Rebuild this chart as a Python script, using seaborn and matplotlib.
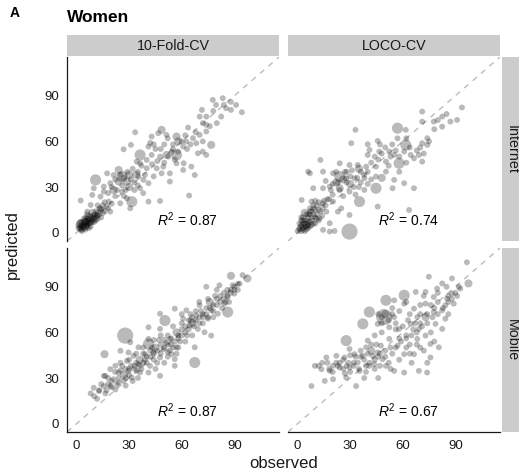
import numpy as np
import pandas as pd
import seaborn as sns
import matplotlib.pyplot as plt
from matplotlib.patches import Rectangle

# (observed, predicted, size class) per panel
internet_10fold = [
    (1, 3, 1), (2, 4, 1), (2, 6, 2), (3, 2, 1), (3, 5, 1), (4, 3, 1), (4, 7, 1), (5, 4, 2), (5, 8, 1), (6, 5, 1),
    (6, 9, 1), (7, 6, 1), (7, 10, 2), (8, 7, 1), (8, 11, 1), (9, 8, 1), (10, 9, 1), (10, 12, 1), (11, 10, 1),
    (12, 13, 1), (3, 1, 1), (5, 2, 1), (6, 6, 1), (4, 9, 1), (2, 2, 1), (8, 4, 1), (9, 13, 2), (7, 3, 1), (1, 5, 1),
    (5, 10, 1), (11, 14, 1), (13, 12, 1), (6, 12, 1), (12, 9, 1), (14, 15, 1), (15, 13, 1),
    (2, 3, 1), (3, 4, 1), (4, 5, 1), (5, 6, 1), (6, 7, 1), (7, 8, 1), (8, 9, 1), (9, 10, 1), (10, 11, 1), (3, 7, 1),
    (4, 4, 1), (6, 4, 1), (7, 9, 1), (9, 7, 1), (11, 8, 1), (12, 11, 1), (2, 7, 1), (5, 7, 2), (8, 6, 1), (10, 7, 1),
    (13, 16, 1), (15, 18, 1), (16, 14, 1), (17, 17, 1), (12, 18, 1),
    (33.4, 66, 1), (26.8, 54.8, 1), (31, 57.7, 1), (41, 56.6, 1), (42.8, 63.2, 1), (48.5, 67.6, 2), (46.6, 65.4, 1),
    (51.3, 64.3, 1), (57, 63.2, 2), (63.6, 69.1, 1), (72, 72, 1), (74, 66.5, 1), (76.8, 57.7, 2), (69.2, 52.2, 1),
    (72, 53.3, 1), (74, 51.1, 1), (62.6, 59.9, 1), (60.8, 56.6, 1), (57.9, 53.3, 1), (54.2, 53.3, 1), (52.3, 50, 1),
    (47.6, 50, 1), (42.8, 51.1, 1), (40, 47.8, 1), (36.2, 45.6, 1), (34.3, 46.7, 1), (40, 42.3, 1), (45.7, 42.3, 1),
    (49.5, 43.4, 1), (48.5, 39, 1), (53.2, 39, 1), (53.2, 33.6, 1), (57, 45.6, 1), (61.1, 45.6, 1), (65.5, 43.4, 1),
    (67.4, 37.9, 1), (60.8, 41.2, 1), (64.2, 24.4, 1), (47.6, 20.8, 1), (41, 20.4, 1), (30.6, 16, 1), (36.2, 29.2, 1),
    (41, 32.5, 1), (38.1, 34.7, 1), (35.3, 36.9, 1), (28.7, 33.6, 2), (24, 33.6, 2), (19.2, 32.5, 1), (10.8, 34.7, 3),
    (15.5, 30.3, 1), (21.1, 28.1, 2), (25.9, 27, 1), (28.7, 22.6, 1), (31.5, 20.4, 3), (24.9, 19.3, 1), (18.3, 20.4, 1),
    (13.6, 23.7, 1), (8.9, 24.8, 1), (2.3, 21.1, 1), (8, 18.2, 1), (13.6, 16, 1), (19.2, 13.8, 1), (11.7, 11.6, 1),
    (6, 13.8, 1), (24, 41.2, 2), (25.9, 36.9, 3), (36.2, 51.1, 3), (57, 51.1, 3), (51.3, 51.1, 2), (17.4, 39, 1),
    (21.1, 37.9, 1), (15.5, 27, 1), (9.8, 29.2, 1), (66.4, 62.1, 1), (68.3, 58.8, 1), (70.2, 64.3, 1), (79.6, 84, 1),
    (82.5, 76.3, 1), (85.3, 81.8, 1), (88.1, 80.7, 1), (70.2, 76.3, 1), (74, 70.9, 1), (74, 76.3, 1), (83.4, 88.4, 1),
    (77.7, 87.3, 1), (91, 84, 1), (94.3, 79.2, 1), (71.5, 80.7, 1), (30, 30, 2), (33, 28, 1), (27, 24, 1), (22, 24, 1),
    (35, 40, 1), (44, 37, 1), (50, 46, 1), (55, 58, 1), (63, 55, 1), (58, 60, 2), (45, 55, 1), (38, 26, 1), (20, 19, 1),
    (16, 20, 1), (14, 10, 1), (18, 16, 1), (30, 38, 2), (26, 31, 1),
    (20, 30, 1), (22, 35, 1), (25, 38, 1), (27, 36, 1), (29, 40, 1), (31, 35, 1), (32, 42, 1), (34, 38, 2),
    (28, 28, 1), (33, 33, 1), (23, 28, 1), (18, 26, 1), (37, 44, 1), (39, 38, 1), (43, 45, 1), (35, 31, 1),
    (44, 58, 1), (48, 55, 1), (50, 58, 1), (52, 62, 1), (55, 55, 1), (60, 60, 1), (62, 64, 1), (65, 58, 1),
    (68, 66, 1), (72, 60, 1), (76, 70, 1), (80, 72, 1), (56, 48, 1), (46, 47, 1), (42, 59, 1), (78, 80, 1),
    (84, 84, 1), (88, 86, 1),
]

internet_loco = [
    (1, 2, 1), (2, 4, 1), (2, 1, 1), (3, 6, 1), (3, 3, 1), (4, 1, 1), (4, 8, 1), (5, 5, 2), (5, 2, 1), (6, 7, 1),
    (6, 10, 1), (7, 4, 1), (7, 12, 1), (8, 8, 1), (8, 14, 1), (9, 6, 1), (10, 10, 1), (10, 15, 1), (11, 12, 1),
    (12, 8, 1), (1, 6, 1), (3, 10, 1), (5, 12, 1), (6, 3, 1), (2, 8, 1), (9, 16, 1), (4, 13, 2), (11, 18, 1),
    (13, 14, 1), (7, 16, 1), (0, 1, 1), (14, 11, 1), (12, 20, 1),
    (1, 3, 1), (2, 5, 1), (3, 2, 1), (4, 4, 1), (4, 6, 1), (5, 8, 1), (6, 5, 1), (7, 7, 1), (8, 10, 1), (9, 12, 1),
    (10, 6, 1), (11, 9, 1), (3, 8, 1), (5, 4, 1), (6, 12, 1), (8, 5, 1), (2, 10, 1), (7, 14, 1), (9, 18, 1),
    (12, 15, 1), (14, 17, 1), (15, 21, 1), (16, 18, 1), (18, 22, 1), (10, 21, 1),
    (93.8, 82.3, 1), (71.1, 79.6, 1), (77.7, 73, 1), (82.5, 76.3, 1), (87.2, 73, 1), (91, 74.1, 1), (82.5, 69.7, 1),
    (61.7, 67.6, 1), (57, 68.7, 3), (71.1, 73, 1), (33, 67.6, 1), (30.6, 58.8, 1), (40, 58.1, 1), (45.7, 60.3, 1),
    (40, 51.1, 1), (41, 54.4, 1), (46.6, 53.3, 1), (52.3, 53.3, 1), (55.1, 51.1, 1), (61.7, 57.7, 3), (60.8, 53.3, 1),
    (64.5, 51.1, 1), (69.2, 51.1, 1), (71.1, 46.7, 1), (66.4, 48.9, 1), (74, 62.1, 1), (74, 57.7, 1), (71.1, 58.8, 1),
    (57.9, 45.6, 3), (50.4, 46.7, 1), (44.7, 43.4, 1), (39.1, 43.4, 1), (34.3, 44.5, 1), (29.6, 44.5, 1),
    (24, 45.6, 1), (13, 47.8, 1), (7, 39, 1), (6, 40.1, 1), (14.5, 40.1, 1), (20.2, 39, 1), (24, 36.9, 3),
    (27.7, 35.8, 1), (32.5, 35.8, 1), (38.1, 35.8, 1), (44.7, 36.9, 1), (50.4, 40.1, 1), (55.1, 34.7, 1),
    (60.8, 32.5, 1), (66.4, 29.2, 1), (54.2, 29.2, 1), (44.7, 29.2, 3), (35.3, 20.4, 3), (38.1, 28.1, 1),
    (29.6, 27, 1), (24, 29.2, 2), (18.3, 30.3, 1), (14.5, 29.2, 1), (8.9, 29.2, 1), (2.3, 21.5, 1), (7.9, 20.4, 1),
    (14.5, 19.3, 1), (20.2, 20.4, 1), (23, 13.8, 1), (24.9, 16, 1), (29.6, 11.6, 1), (29.6, 0.7, 4), (14.5, 1.8, 1),
    (18.3, 0.7, 1), (21.1, 1.1, 1), (45.7, 17.1, 1), (63.6, 14.9, 1), (12.6, 9.4, 1), (16.4, 13.8, 1), (18.3, 6.2, 1),
    (30, 32, 2), (35, 30, 1), (26, 24, 1), (40, 32, 1), (48, 36, 2), (52, 44, 1), (36, 40, 1), (42, 46, 1),
    (20, 25, 1), (17, 22, 1), (28, 40, 1), (46, 48, 1), (58, 40, 1), (62, 46, 1), (70, 56, 1), (54, 58, 1),
    (33, 25, 1), (22, 33, 2),
    (20, 32, 1), (23, 33, 1), (26, 35, 2), (28, 33, 1), (30, 37, 1), (32, 30, 1), (34, 36, 1), (36, 33, 1),
    (38, 38, 1), (24, 28, 1), (27, 40, 1), (31, 41, 1), (19, 28, 1), (22, 40, 1), (16, 34, 1), (40, 40, 1),
    (42, 35, 1), (35, 42, 2), (44, 50, 1), (48, 52, 1), (50, 56, 1), (53, 50, 1), (56, 54, 1), (58, 50, 1),
    (64, 56, 1), (68, 54, 1), (72, 52, 1), (75, 60, 1), (62, 62, 1), (47, 58, 1), (57, 62, 1), (78, 68, 1),
    (85, 78, 1), (80, 74, 1),
]

mobile_10fold = [
    (97.5, 95.5, 2), (88.1, 97.2, 2), (94.7, 97.7, 1), (74, 90, 1), (81.5, 91, 1), (89.1, 91, 1), (90, 85.5, 1),
    (86.2, 83.3, 1), (84.4, 78.9, 1), (86.2, 73.4, 3), (80.6, 72.3, 1), (76.8, 74.5, 1), (74.9, 69, 1),
    (70.2, 77.8, 1), (68.3, 71.2, 1), (62.6, 74.5, 1), (60.8, 69, 1), (56, 75.6, 1), (64.5, 64.5, 1), (69.2, 62.3, 1),
    (76.8, 57.9, 1), (73, 60.1, 1), (67.4, 50.2, 1), (67.4, 40.2, 3), (57, 50.2, 1), (53.2, 55.7, 1), (50.4, 67.8, 3),
    (47.6, 62.3, 1), (47.6, 72.3, 1), (41, 63.4, 1), (41, 55.7, 1), (41, 52.4, 3), (27.7, 57.9, 4), (30.6, 53.5, 1),
    (35.3, 50.2, 1), (29.6, 46.8, 1), (25, 47.9, 1), (15.9, 45.7, 2), (22.1, 38, 1), (28.7, 41.3, 1), (32.5, 44.6, 1),
    (39.1, 45.7, 1), (43.8, 46.8, 1), (49.5, 49.1, 1), (47.6, 43.5, 1), (54.2, 45.7, 1), (56, 42.4, 1), (56, 38, 1),
    (47.6, 31.4, 1), (41, 33.6, 1), (34.3, 34.7, 1), (29.6, 34.7, 1), (24, 33.6, 1), (19.2, 35.8, 1), (16.4, 31.4, 1),
    (21.1, 29.2, 1), (26.8, 28.1, 1), (31.5, 30.3, 1), (36.2, 33.6, 1), (19.2, 24.7, 1), (15.5, 24.7, 1),
    (12.7, 21.4, 1), (9.8, 23.6, 1), (8, 19.9, 1), (11.7, 16.3, 1), (16.4, 19.9, 1), (22.1, 22.5, 1), (15.5, 31.4, 1),
    (41.9, 38, 1), (35.3, 39.1, 1),
    (20, 28, 1), (24, 30, 1), (27, 32, 2), (30, 36, 1), (33, 38, 1), (36, 42, 2), (38, 40, 1), (40, 44, 1), (42, 48, 1),
    (45, 50, 2), (48, 52, 1), (50, 55, 1), (52, 58, 1), (54, 52, 1), (57, 60, 2), (58, 56, 1), (60, 62, 1),
    (62, 60, 1), (64, 68, 1), (66, 66, 2), (68, 74, 1), (70, 70, 1), (72, 72, 1), (74, 76, 1), (76, 80, 2),
    (78, 78, 1), (80, 82, 1), (82, 84, 1), (84, 86, 1), (86, 88, 1), (88, 86, 1), (90, 90, 1), (92, 92, 1),
    (78, 70, 1), (72, 66, 1), (66, 58, 1), (62, 54, 1), (58, 50, 1), (52, 47, 1), (46, 40, 1), (44, 55, 1),
    (38, 50, 1), (34, 46, 1), (30, 42, 1), (26, 38, 1), (22, 34, 1), (18, 30, 1), (14, 26, 1), (25, 40, 1),
    (32, 28, 1), (45, 36, 1), (50, 40, 1), (60, 66, 1), (55, 64, 1), (70, 80, 1), (65, 72, 1), (80, 88, 1),
    (85, 80, 1), (92, 88, 1), (53, 48, 1), (44, 42, 1), (37, 36, 1), (28, 30, 1), (23, 26, 1), (17, 22, 1),
    (10, 18, 1),
    (25, 35, 1), (28, 36, 1), (31, 38, 1), (34, 40, 1), (36, 38, 1), (39, 42, 1), (42, 44, 1), (44, 46, 1),
    (46, 48, 1), (48, 46, 1), (50, 50, 1), (52, 52, 1), (54, 56, 1), (56, 54, 1), (58, 58, 1), (60, 58, 1),
    (62, 64, 1), (64, 62, 1), (66, 70, 1), (68, 68, 1), (70, 66, 1), (72, 70, 1), (74, 72, 1), (76, 76, 1),
    (78, 74, 1), (80, 78, 1), (82, 80, 1), (84, 82, 1), (86, 84, 1), (88, 88, 1), (90, 88, 1), (93, 92, 1),
    (30, 32, 1), (33, 36, 1), (40, 40, 1), (43, 50, 1), (47, 55, 1), (51, 53, 1), (55, 50, 1), (59, 54, 1),
    (63, 58, 1), (67, 64, 1), (71, 74, 1), (75, 70, 1), (79, 84, 1), (83, 76, 1), (87, 80, 1), (60, 72, 1),
    (65, 68, 1), (75, 82, 1), (20, 24, 1), (24, 27, 1), (18, 26, 1), (13, 22, 1), (28, 25, 1), (35, 30, 1),
    (38, 46, 1), (48, 58, 1), (52, 44, 1), (57, 46, 1),
]

mobile_loco = [
    (96.6, 106.1, 1), (74.9, 96.6, 1), (88.1, 95.5, 1), (97.5, 92.2, 2), (82.5, 92.2, 1), (92.8, 88.8, 1),
    (88.1, 85.5, 1), (85.3, 82.2, 1), (89.1, 78.9, 1), (84.3, 77.8, 1), (79.6, 88.8, 1), (73, 86.6, 1),
    (67.4, 86.6, 1), (77.7, 83.3, 1), (73, 78.9, 1), (73, 70.1, 2), (77.7, 73.4, 1), (82.5, 74.5, 1), (84.3, 69, 1),
    (82.5, 62.3, 1), (78.7, 65.6, 1), (68.3, 70.1, 1), (66.4, 75.6, 1), (60.8, 84.4, 3), (60.8, 78.9, 1),
    (55.1, 81.1, 1), (50.4, 81.1, 3), (49.4, 70.1, 4), (55.1, 70.1, 1), (40.9, 73.4, 3), (37.2, 65.6, 3),
    (45.7, 65.6, 1), (52.3, 63.4, 1), (57.9, 62.3, 1), (64.5, 65.6, 1), (69.2, 62.3, 1), (68.3, 55.7, 1), (73, 57.9, 1),
    (75.8, 52.4, 1), (80.6, 50.2, 1), (75.8, 43.5, 1), (66.4, 45.7, 1), (60.8, 45.7, 1), (57, 51.3, 1),
    (52.3, 55.7, 1), (47.5, 51.3, 1), (45.7, 46.8, 1), (40, 54.6, 1), (39.1, 50.2, 1), (37.2, 44.6, 1),
    (42.8, 44.6, 1), (48.5, 42.4, 1), (43.8, 39.1, 1), (39.1, 38, 1), (34.3, 40.2, 1), (27.7, 54.6, 3),
    (29.6, 49.1, 1), (32.5, 45.7, 1), (26.8, 43.5, 1), (22.1, 44.6, 1), (20.2, 38, 1), (16.4, 43.5, 1), (9.8, 38, 1),
    (13.6, 35.8, 1), (18.3, 34.7, 1), (24, 36.9, 1), (29.6, 36.9, 1), (35.3, 34.7, 1), (40.9, 38, 1), (60.8, 33.6, 1),
    (50.4, 38, 1), (55.1, 34.7, 1), (15.5, 28.1, 1), (20.2, 29.2, 1), (7.9, 24.7, 1), (33.4, 24.7, 1),
    (27.7, 30.3, 1), (69.2, 34.7, 1), (73.9, 33.6, 1),
    (42, 48, 2), (46, 44, 1), (50, 48, 1), (54, 46, 1), (58, 56, 1), (62, 58, 1), (66, 62, 1), (70, 66, 1),
    (74, 72, 1), (78, 76, 1), (80, 80, 1), (86, 84, 1), (90, 86, 1), (92, 90, 1), (70, 78, 1), (64, 72, 1),
    (56, 66, 1), (48, 60, 1), (44, 58, 1), (36, 48, 1), (32, 40, 1), (28, 38, 1), (24, 40, 1), (18, 36, 1),
    (14, 40, 1), (30, 34, 1), (44, 36, 1), (52, 40, 1), (64, 52, 1), (76, 60, 1), (86, 72, 1), (62, 80, 1),
    (58, 74, 1), (54, 76, 1), (48, 66, 1), (70, 50, 1), (74, 40, 1), (65, 40, 1), (38, 30, 1), (46, 30, 1),
    (20, 34, 1), (23, 38, 1), (26, 36, 1), (29, 40, 1), (32, 38, 1), (35, 36, 1), (38, 42, 1), (41, 40, 1),
    (44, 42, 1), (47, 46, 1), (50, 44, 1), (53, 50, 1), (56, 50, 1), (59, 54, 1), (62, 56, 1), (65, 58, 1),
    (68, 60, 1), (71, 64, 1), (74, 66, 1), (77, 70, 1), (80, 72, 1), (83, 76, 1), (86, 80, 1), (88, 82, 1),
    (91, 84, 1), (50, 72, 2), (48, 70, 1), (52, 68, 1), (46, 72, 1), (54, 72, 1), (56, 62, 1), (60, 64, 1),
    (63, 68, 1), (67, 66, 1), (70, 72, 1), (76, 78, 1), (80, 86, 1), (85, 90, 1), (72, 84, 1), (45, 52, 1),
    (42, 52, 1), (40, 46, 1), (36, 44, 1), (33, 44, 1), (30, 45, 1), (26, 42, 1), (22, 40, 1), (17, 40, 1),
    (12, 38, 1), (27, 33, 1), (39, 34, 1), (47, 38, 1), (53, 36, 1), (58, 42, 1), (64, 46, 1), (72, 48, 1),
    (78, 54, 1), (68, 52, 1), (62, 50, 1),
]

rows = ['Internet', 'Mobile']
cols = ['10-Fold-CV', 'LOCO-CV']
panels = {('Internet', '10-Fold-CV'): internet_10fold, ('Internet', 'LOCO-CV'): internet_loco,
          ('Mobile', '10-Fold-CV'): mobile_10fold, ('Mobile', 'LOCO-CV'): mobile_loco}
r2_labels = {('Internet', '10-Fold-CV'): '0.87', ('Internet', 'LOCO-CV'): '0.74',
             ('Mobile', '10-Fold-CV'): '0.87', ('Mobile', 'LOCO-CV'): '0.67'}

sns.set_theme(style='white')
plt.rcParams['font.family'] = ['Liberation Sans', 'DejaVu Sans']
plt.rcParams['mathtext.fontset'] = 'custom'
plt.rcParams['mathtext.rm'] = 'Liberation Sans'
plt.rcParams['mathtext.it'] = 'Liberation Sans:italic'

W, H = 519, 474
fig = plt.figure(figsize=(W / 100, H / 100), dpi=100)

col_x = [67, 288]
row_y = [57, 248]
pw, ph = 212, 184
strip_col = '#cccccc'
ink = '#1a1a1a'

for i, r in enumerate(rows):
    for j, c in enumerate(cols):
        ax = fig.add_axes([col_x[j] / W, 1 - (row_y[i] + ph) / H, pw / W, ph / H])
        df = pd.DataFrame(panels[(r, c)], columns=['observed', 'predicted', 'size'])
        ax.axline((0, 0), slope=1, color='#bbbbbb', lw=1, ls=(0, (4, 4)), zorder=0)
        sns.scatterplot(data=df, x='observed', y='predicted', size='size',
                        sizes={1: 18, 2: 34, 3: 64, 4: 135}, color='black',
                        alpha=0.27, linewidth=0, legend=False, ax=ax)
        ax.set_xlim(-5.5, 115.5)
        ax.set_ylim(-5.5, 115.5)
        ax.set_xlabel('')
        ax.set_ylabel('')
        ax.set_xticks([0, 30, 60, 90])
        ax.set_yticks([0, 30, 60, 90])
        for sp in ax.spines.values():
            sp.set_visible(False)
        ax.tick_params(axis='both', length=3.5, width=0.8, color=ink, labelsize=9.5,
                       labelcolor=ink, pad=2, direction='out')
        if j == 0:
            ax.spines['left'].set_visible(True)
            ax.spines['left'].set_color(ink)
            ax.spines['left'].set_linewidth(0.9)
        else:
            ax.tick_params(axis='y', left=False, labelleft=False)
        if i == 1:
            ax.spines['bottom'].set_visible(True)
            ax.spines['bottom'].set_color(ink)
            ax.spines['bottom'].set_linewidth(0.9)
        else:
            ax.tick_params(axis='x', bottom=False, labelbottom=False)
        ax.text(63.5, 8.5, r'$R^2$ = ' + r2_labels[(r, c)], ha='center', va='center',
                fontsize=10, color='black')

# strips
for j, c in enumerate(cols):
    fig.patches.append(Rectangle((col_x[j] / W, 1 - 56 / H), pw / W, 21 / H,
                                 transform=fig.transFigure, facecolor=strip_col, edgecolor='none'))
    fig.text((col_x[j] + pw / 2) / W, 1 - 45.5 / H, c, ha='center', va='center', fontsize=10.3, color=ink)
for i, r in enumerate(rows):
    fig.patches.append(Rectangle((502 / W, 1 - (row_y[i] + ph) / H), 21 / W, ph / H,
                                 transform=fig.transFigure, facecolor=strip_col, edgecolor='none'))
    fig.text(512 / W, 1 - (row_y[i] + ph / 2) / H, r, ha='center', va='center', rotation=-90,
             fontsize=10.3, color=ink)

fig.text(10 / W, 1 - 13 / H, 'A', fontsize=10, fontweight='bold', ha='left', va='center', color='black')
fig.text(67 / W, 1 - 17 / H, 'Women', fontsize=12.5, fontweight='bold', ha='left', va='center', color='black')
fig.text(284 / W, 1 - 464 / H, 'observed', fontsize=12, ha='center', va='center', color=ink)
fig.text(12 / W, 1 - 245 / H, 'predicted', fontsize=12, ha='center', va='center', rotation=90, color=ink)

fig.savefig('out.png', dpi=100)
